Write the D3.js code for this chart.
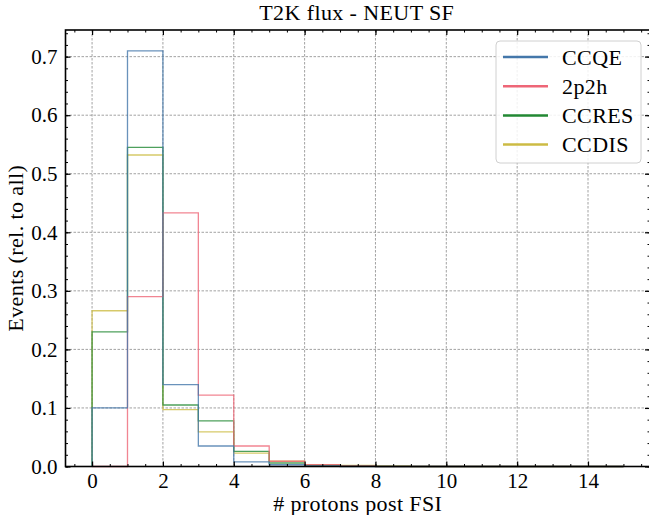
<!DOCTYPE html>
<html lang="en">
<head>
    <meta charset="UTF-8">
    <title>protons post FSI</title>
    <script src="https://cdn.jsdelivr.net/npm/d3@7"></script>
    <style>
        body { margin: 0; background: #fff; }
        svg text { font-family: "Liberation Serif", serif; fill: #000; }
        .grid line { stroke: #8a8a8a; stroke-width: 0.8; stroke-dasharray: 2.5,1.5; }
        .words { font-size: 22px; letter-spacing: 0.4px; }
    </style>
</head>
<body>
<script>
    // bin edges 0..15, one value per bin
    let binEdges = d3.range(0, 16);
    let ccqe  = [0.100, 0.710, 0.140, 0.035, 0.008, 0.003, 0.001, 0, 0, 0, 0, 0, 0, 0, 0];
    let twoP  = [0.000, 0.290, 0.433, 0.122, 0.035, 0.009, 0.003, 0.001, 0, 0, 0, 0, 0, 0, 0];
    let ccres = [0.230, 0.545, 0.105, 0.078, 0.026, 0.006, 0.002, 0.001, 0, 0, 0, 0, 0, 0, 0];
    let ccdis = [0.266, 0.532, 0.097, 0.059, 0.023, 0.009, 0.003, 0.002, 0.001, 0, 0, 0, 0, 0, 0];

    let seriesNames = ["CCQE", "2p2h", "CCRES", "CCDIS"];
    let seriesData = [ccqe, twoP, ccres, ccdis];
    let colors = ["#4477AA", "#EE6677", "#228833", "#CCBB44"];

    let xMajor = d3.range(0, 15, 2);
    let yMajor = d3.range(0, 0.71, 0.1);

    let width = 649, height = 515;
    let pLeft = 65.5, pRight = 650, pTop = 30, pBottom = 466.5;

    let svg = d3.select("body").append("svg")
        .attr("width", width)
        .attr("height", height);

    let xScale = d3.scaleLinear().domain([-0.75, 15.75]).range([pLeft, pRight]);
    let yScale = d3.scaleLinear().domain([0, 0.7455]).range([pBottom, pTop]);

    // grid
    let grid = svg.append("g").attr("class", "grid");
    grid.selectAll(".gx").data(xMajor).enter().append("line")
        .attr("x1", d => xScale(d)).attr("x2", d => xScale(d))
        .attr("y1", pTop).attr("y2", pBottom);
    grid.selectAll(".gy").data(yMajor).enter().append("line")
        .attr("x1", pLeft).attr("x2", pRight)
        .attr("y1", d => yScale(d)).attr("y2", d => yScale(d));

    // step histograms
    let line = d3.line()
        .x(d => xScale(d[0]))
        .y(d => yScale(d[1]));

    function stepPoints(vals) {
        let pts = [[binEdges[0], 0]];
        vals.forEach(function (v, i) {
            pts.push([binEdges[i], v]);
            pts.push([binEdges[i + 1], v]);
        });
        pts.push([binEdges[binEdges.length - 1], 0]);
        return pts;
    }

    // drawn last-to-first so CCQE sits on top
    d3.range(seriesData.length - 1, -1, -1).forEach(function (i) {
        svg.append("path")
            .attr("d", line(stepPoints(seriesData[i])))
            .attr("fill", "none")
            .attr("stroke", colors[i])
            .attr("stroke-width", 1.3)
            .attr("stroke-opacity", 0.8);
    });

    // axes: ticks inward on all sides
    let xMinor = d3.range(-0.5, 15.6, 0.5);
    let yMinor = d3.range(0, 0.745, 0.02);

    let xAxisB = d3.axisBottom(xScale).tickValues(xMajor).tickFormat(d3.format("d")).tickSize(-5).tickPadding(7);
    let xAxisT = d3.axisTop(xScale).tickValues(xMajor).tickFormat("").tickSize(-5);
    let yAxisL = d3.axisLeft(yScale).tickValues(yMajor).tickFormat(d3.format(".1f")).tickSize(-5).tickPadding(8);
    let yAxisR = d3.axisRight(yScale).tickValues(yMajor).tickFormat("").tickSize(-5);

    function addAxis(axis, transform, minorVals, minorAxis) {
        let g = svg.append("g").attr("transform", transform).call(axis);
        g.select(".domain").remove();
        g.selectAll("line").attr("stroke", "#000").attr("stroke-width", 1.2);
        g.selectAll("text").attr("font-size", "21px").attr("font-family", "Liberation Serif, serif");
        let m = svg.append("g").attr("transform", transform).call(minorAxis.tickValues(minorVals).tickFormat("").tickSize(-2.5));
        m.select(".domain").remove();
        m.selectAll("line").attr("stroke", "#000").attr("stroke-width", 1);
        return g;
    }

    addAxis(xAxisB, "translate(0," + pBottom + ")", xMinor, d3.axisBottom(xScale));
    addAxis(xAxisT, "translate(0," + pTop + ")", xMinor, d3.axisTop(xScale));
    addAxis(yAxisL, "translate(" + pLeft + ",0)", yMinor, d3.axisLeft(yScale));
    addAxis(yAxisR, "translate(" + pRight + ",0)", yMinor, d3.axisRight(yScale));

    svg.append("rect")
        .attr("x", pLeft).attr("y", pTop)
        .attr("width", pRight - pLeft).attr("height", pBottom - pTop)
        .attr("fill", "none").attr("stroke", "#000").attr("stroke-width", 1.6);

    // legend
    let legend = svg.append("g").attr("transform", "translate(496,41)");
    legend.append("rect")
        .attr("width", 145).attr("height", 122)
        .attr("rx", 4)
        .attr("fill", "#fff").attr("fill-opacity", 0.85)
        .attr("stroke", "#d0d0d0").attr("stroke-width", 1);
    seriesNames.forEach(function (name, i) {
        let yy = 16 + i * 29.2;
        legend.append("line")
            .attr("x1", 7).attr("x2", 52)
            .attr("y1", yy).attr("y2", yy)
            .attr("stroke", colors[i]).attr("stroke-width", 2.5);
        legend.append("text")
            .attr("class", "words")
            .attr("x", 66).attr("y", yy + 7.5)
            .text(name);
    });

    // titles
    svg.append("text")
        .attr("class", "words")
        .text("T2K flux - NEUT SF")
        .attr("x", (pLeft + pRight) / 2 - 1)
        .attr("y", 20)
        .attr("text-anchor", "middle");

    svg.append("text")
        .attr("class", "words")
        .text("# protons post FSI")
        .attr("x", (pLeft + pRight) / 2)
        .attr("y", 511)
        .attr("text-anchor", "middle");

    svg.append("text")
        .attr("class", "words")
        .text("Events (rel. to all)")
        .attr("transform", "translate(23," + ((pTop + pBottom) / 2) + ") rotate(-90)")
        .attr("text-anchor", "middle");
</script>
</body>
</html>
